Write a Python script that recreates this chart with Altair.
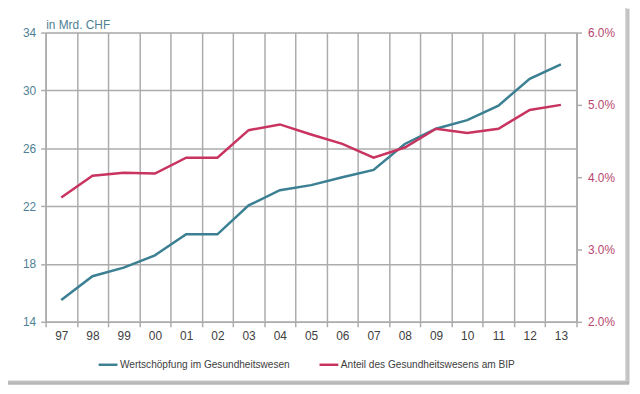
import altair as alt
import pandas as pd

years = ["97", "98", "99", "00", "01", "02", "03", "04", "05", "06", "07", "08", "09", "10", "11", "12", "13"]
wert = [15.5, 17.15, 17.75, 18.6, 20.05, 20.05, 22.05, 23.1, 23.45, 24.0, 24.5, 26.3, 27.35, 27.95, 28.95, 30.8, 31.8]
anteil_pct = [3.72, 4.02, 4.06, 4.05, 4.27, 4.27, 4.65, 4.73, 4.59, 4.46, 4.27, 4.41, 4.67, 4.61, 4.67, 4.93, 5.00]
series = ["Wertschöpfung im Gesundheitswesen", "Anteil des Gesundheitswesens am BIP"]
colors = ["#3a7f92", "#c8335f"]
left_ticks = [14, 18, 22, 26, 30, 34]
right_ticks = [0.02, 0.03, 0.04, 0.05, 0.06]

FONT = "Liberation Sans"
GRID = "#acacac"
W, H = 536, 292

df1 = pd.DataFrame({"year": years, "value": wert, "series": series[0]})
df2 = pd.DataFrame({"year": years, "value": [v / 100 for v in anteil_pct], "series": series[1]})

x_enc = alt.X(
    "year:O", sort=years,
    scale=alt.Scale(type="band", paddingInner=0, paddingOuter=0),
    axis=alt.Axis(title=None, tickBand="extent", grid=True, gridColor=GRID, gridWidth=1.5,
                  domainColor=GRID, domainWidth=1.5, tickColor=GRID, tickWidth=1.5, tickSize=5,
                  labelAngle=0, labelPadding=4, labelFontSize=12, labelColor="#404040", labelFont=FONT),
)

color_enc = alt.Color(
    "series:N",
    scale=alt.Scale(domain=series, range=colors),
    legend=alt.Legend(title=None, orient="none", legendX=52, legendY=324, direction="horizontal",
                      symbolType="stroke", symbolSize=361, symbolStrokeWidth=2.5,
                      labelFontSize=10.2, labelColor="#404040", labelFont=FONT, labelOffset=1,
                      labelLimit=0, columnPadding=24),
)

left = alt.Chart(df1).mark_line(strokeWidth=2.5).encode(
    x=x_enc,
    y=alt.Y("value:Q", scale=alt.Scale(domain=[14, 34], nice=False, zero=False),
            axis=alt.Axis(orient="left", values=left_ticks, title="in Mrd. CHF", titleAngle=0,
                          titleX=0, titleY=-4, titleAlign="left", titleBaseline="alphabetic",
                          titleFontSize=12, titleFontWeight="normal", titleColor="#4f7f95", titleFont=FONT,
                          grid=True, gridColor=GRID, gridWidth=1.5,
                          domainColor=GRID, domainWidth=1.5, tickColor=GRID, tickWidth=1.5, tickSize=5,
                          labelPadding=5, labelFontSize=12, labelColor="#4f7f95", labelFont=FONT)),
    color=color_enc,
)

right = alt.Chart(df2).mark_line(strokeWidth=2.5).encode(
    x=x_enc,
    y=alt.Y("value:Q", scale=alt.Scale(domain=[0.02, 0.06], nice=False, zero=False),
            axis=alt.Axis(orient="right", values=right_ticks, format=".1%", title=None, grid=False,
                          domainColor=GRID, domainWidth=1.5, tickColor=GRID, tickWidth=1.5, tickSize=5,
                          labelPadding=6, labelFontSize=12, labelColor="#b8466f", labelFont=FONT)),
    color=color_enc,
)

one = pd.DataFrame({"k": [0]})
frame = alt.Chart(one).mark_rect(fillOpacity=0, stroke="#c8c8c8", strokeWidth=1.5).encode(
    x=alt.value(-41), x2=alt.value(W + 50), y=alt.value(-27), y2=alt.value(H + 60)
)
shadow_l = alt.Chart(one).mark_rule(stroke="#d8d8d8", strokeWidth=2).encode(
    x=alt.value(-39.5), y=alt.value(-26), y2=alt.value(H + 59)
)
shadow_r = alt.Chart(one).mark_rule(stroke="#b4b4b4", strokeWidth=3, opacity=0.8).encode(
    x=alt.value(W + 52), y=alt.value(-24), y2=alt.value(H + 62)
)
shadow_b = alt.Chart(one).mark_rule(stroke="#a8a8a8", strokeWidth=3, opacity=0.8).encode(
    x=alt.value(-38), x2=alt.value(W + 53), y=alt.value(H + 62)
)

chart = alt.layer(left, right, frame, shadow_l, shadow_r, shadow_b).resolve_scale(y="independent").properties(
    width=W, height=H,
    padding={"left": 38, "top": 23, "right": 56, "bottom": 63},
    autosize=alt.AutoSizeParams(type="none"),
    background="white",
).configure_view(stroke=None).configure(font=FONT)

chart.save("out.html", embed_options={"renderer": "svg", "actions": False})
